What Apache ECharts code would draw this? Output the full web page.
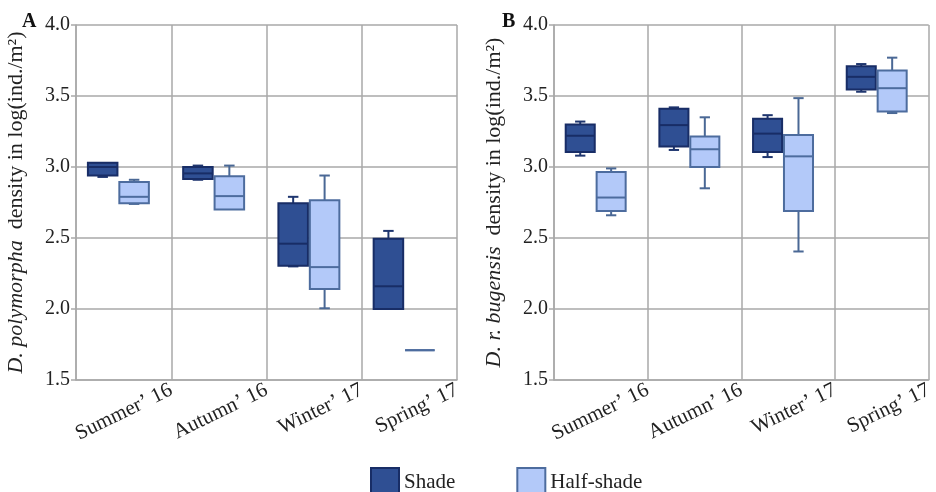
<!DOCTYPE html>
<html>
<head>
<meta charset="utf-8">
<script src="https://cdn.jsdelivr.net/npm/echarts@6/dist/echarts.min.js"></script>
<style>
  html, body { margin: 0; padding: 0; background: #fff; }
  #chart { width: 936px; height: 492px; }
</style>
</head>
<body>
<div id="chart"></div>
<script>
// Seasons on the x axis
const categories = ['Summer\u2019 16', 'Autumn\u2019 16', 'Winter\u2019 17', 'Spring\u2019 17'];
const yTicks = [1.5, 2.0, 2.5, 3.0, 3.5, 4.0];

// Box statistics per season: [min, Q1, median, Q3, max]  (log ind./m²)
// Panel A – D. polymorpha
const polyShade = [
  [2.93, 2.94, 3.00, 3.03, 3.03],
  [2.91, 2.915, 2.955, 3.00, 3.01],
  [2.30, 2.305, 2.46, 2.745, 2.79],
  [2.00, 2.00, 2.16, 2.495, 2.55]
];
const polyHalf = [
  [2.74, 2.745, 2.79, 2.895, 2.91],
  [2.70, 2.70, 2.795, 2.935, 3.01],
  [2.005, 2.14, 2.295, 2.765, 2.94],
  [1.71, 1.71, 1.71, 1.71, 1.71]
];
// Panel B – D. r. bugensis
const bugShade = [
  [3.08, 3.105, 3.22, 3.30, 3.32],
  [3.12, 3.145, 3.295, 3.41, 3.42],
  [3.07, 3.105, 3.235, 3.34, 3.365],
  [3.53, 3.545, 3.635, 3.71, 3.725]
];
const bugHalf = [
  [2.66, 2.69, 2.785, 2.965, 2.99],
  [2.85, 3.00, 3.125, 3.215, 3.35],
  [2.405, 2.69, 3.075, 3.225, 3.485],
  [3.38, 3.39, 3.555, 3.68, 3.77]
];

const FONT = '"Liberation Serif", "DejaVu Serif", serif';
const GRID_GRAY = '#a9a9a9';
const styles = {
  Shade:        { fill: '#2f4f93', stroke: '#182d66', whisker: '#1f366f', offset: -0.22 },
  'Half-shade': { fill: '#b3c9f9', stroke: '#4d6c9e', whisker: '#4a6895', offset: 0.11 }
};

function boxRows(stats) {
  return stats.map((s, i) => [i].concat(s));
}

function renderBox(kind) {
  const st = styles[kind];
  return function (params, api) {
    const ci = api.value(0);
    const band = api.size([1, 0])[0];
    const cx = api.coord([ci, 0])[0] + st.offset * band;
    const w = 0.31 * band;
    const cap = 0.11 * band;
    const y = k => api.coord([ci, api.value(k)])[1];
    const yMin = y(1), yQ1 = y(2), yMed = y(3), yQ3 = y(4), yMax = y(5);
    const lineStyle = { stroke: st.whisker, lineWidth: 2 };
    const children = [];
    if (yMax < yQ3 - 0.5) {
      children.push({ type: 'line', shape: { x1: cx, y1: yQ3, x2: cx, y2: yMax }, style: lineStyle });
      children.push({ type: 'line', shape: { x1: cx - cap / 2, y1: yMax, x2: cx + cap / 2, y2: yMax }, style: lineStyle });
    }
    if (yMin > yQ1 + 0.5) {
      children.push({ type: 'line', shape: { x1: cx, y1: yQ1, x2: cx, y2: yMin }, style: lineStyle });
      children.push({ type: 'line', shape: { x1: cx - cap / 2, y1: yMin, x2: cx + cap / 2, y2: yMin }, style: lineStyle });
    }
    children.push({
      type: 'rect',
      shape: { x: cx - w / 2, y: yQ3, width: w, height: yQ1 - yQ3 },
      style: { fill: st.fill, stroke: st.stroke, lineWidth: 2 }
    });
    children.push({
      type: 'line',
      shape: { x1: cx - w / 2, y1: yMed, x2: cx + w / 2, y2: yMed },
      style: { stroke: st.stroke, lineWidth: 2 }
    });
    return { type: 'group', children: children };
  };
}

function boxSeries(name, stats, axisIdx) {
  const st = styles[name];
  return {
    type: 'custom',
    name: name,
    xAxisIndex: axisIdx * 2,
    yAxisIndex: axisIdx,
    data: boxRows(stats),
    encode: { x: 0, y: [1, 2, 3, 4, 5] },
    itemStyle: { color: st.fill, borderColor: st.stroke, borderWidth: 1.5 },
    renderItem: renderBox(name),
    clip: false,
    silent: true
  };
}

function dataXAxis(gridIndex) {
  return {
    type: 'category',
    gridIndex: gridIndex,
    data: categories,
    boundaryGap: true,
    axisLine: { show: true, lineStyle: { color: GRID_GRAY, width: 1.5 } },
    axisTick: { show: false },
    axisLabel: { show: false },
    splitLine: { show: true, lineStyle: { color: GRID_GRAY, width: 1.5 } }
  };
}

// Labels sit on the band boundaries, ending at the gridline right of each season
function labelXAxis(gridIndex) {
  return {
    type: 'category',
    gridIndex: gridIndex,
    position: 'bottom',
    data: [''].concat(categories),
    boundaryGap: false,
    axisLine: { show: false },
    axisTick: { show: false },
    splitLine: { show: false },
    axisLabel: {
      interval: 0,
      rotate: 26,
      margin: 9,
      fontFamily: FONT,
      fontSize: 21,
      color: '#222'
    }
  };
}

function yAxis(gridIndex, italicPart) {
  return {
    type: 'value',
    gridIndex: gridIndex,
    min: yTicks[0],
    max: yTicks[yTicks.length - 1],
    interval: 0.5,
    axisLine: { show: true, lineStyle: { color: GRID_GRAY, width: 1.5 } },
    axisTick: { show: true, length: 5, lineStyle: { color: GRID_GRAY, width: 1.5 } },
    splitLine: { show: true, lineStyle: { color: GRID_GRAY, width: 1.5 } },
    axisLabel: {
      margin: 6,
      fontFamily: FONT,
      fontSize: 20,
      color: '#222',
      formatter: v => v.toFixed(1)
    },
    name: '{i|' + italicPart + '}  density in log(ind./m\u00b2)',
    nameLocation: 'middle',
    nameRotate: 90,
    nameGap: 49,
    nameTextStyle: {
      fontFamily: FONT,
      fontSize: 22,
      color: '#222',
      rich: { i: { fontFamily: FONT, fontSize: 22, fontStyle: 'italic', color: '#222' } }
    }
  };
}

const chart = echarts.init(document.getElementById('chart'), null, { renderer: 'canvas' });
chart.setOption({
  backgroundColor: '#fff',
  animation: false,
  title: [
    { text: 'A', left: 17, top: 7, textStyle: { fontFamily: FONT, fontSize: 20, fontWeight: 'bold', color: '#111' } },
    { text: 'B', left: 497, top: 7, textStyle: { fontFamily: FONT, fontSize: 20, fontWeight: 'bold', color: '#111' } }
  ],
  legend: {
    data: ['Shade', 'Half-shade'],
    icon: 'rect',
    itemWidth: 28,
    itemHeight: 28,
    itemGap: 61,
    left: 365,
    top: 462,
    textStyle: { fontFamily: FONT, fontSize: 21, color: '#222' }
  },
  grid: [
    { left: 76, top: 25, width: 381, height: 355 },
    { left: 554, top: 25, width: 380, height: 355 }
  ],
  xAxis: [dataXAxis(0), labelXAxis(0), dataXAxis(1), labelXAxis(1)],
  yAxis: [yAxis(0, 'D. polymorpha'), yAxis(1, 'D. r. bugensis')],
  series: [
    boxSeries('Shade', polyShade, 0),
    boxSeries('Half-shade', polyHalf, 0),
    boxSeries('Shade', bugShade, 1),
    boxSeries('Half-shade', bugHalf, 1)
  ]
});
</script>
</body>
</html>
